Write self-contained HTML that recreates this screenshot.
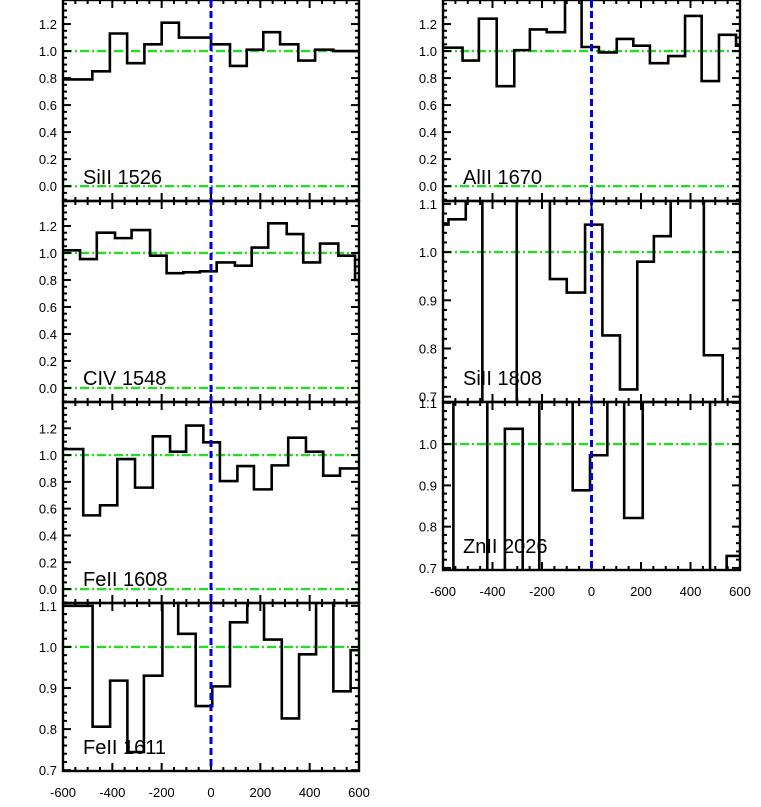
<!DOCTYPE html>
<html><head><meta charset="utf-8"><style>
html,body{margin:0;padding:0;background:#fff;}
svg{display:block;font-family:"Liberation Sans",Arial,sans-serif;}
</style></head><body>
<svg id="chart" width="761" height="807" viewBox="0 0 761 807" xmlns="http://www.w3.org/2000/svg"></svg>
<script>
// ---- data ----
const p1Edges=[-600,-481,-410,-340,-270,-200,-130,0,77,145,212,280,354,422,496,600];
const p1Vals=[0.79,0.85,1.13,0.91,1.05,1.21,1.10,1.05,0.89,1.01,1.14,1.05,0.93,1.01,1.00];
const p2Edges=[-600,-531,-463,-389,-322,-247,-180,-112,-45,23,97,165,232,307,374,442,516,584,600];
const p2Vals=[1.02,0.955,1.15,1.11,1.17,0.98,0.85,0.857,0.864,0.93,0.906,1.04,1.22,1.14,0.93,1.07,0.98,0.80];
const p3Edges=[-600,-518,-450,-380,-308,-236,-166,-101,-31,36,107,174,246,313,385,455,523,600];
const p3Vals=[1.045,0.55,0.625,0.97,0.757,1.14,1.025,1.22,1.095,0.806,0.918,0.744,0.923,1.13,1.025,0.846,0.90];
const p4Edges=[-600,-480,-409,-339,-272,-197,-133,-62,5,77,147,215,287,357,426,496,566,600];
const p4Vals=[1.10,0.806,0.918,0.744,0.93,1.15,1.032,0.856,0.904,1.06,1.15,1.018,0.826,0.982,1.15,0.892,0.992];
const p5Edges=[-600,-521,-455,-383,-312,-249,-181,-107,-40,30,102,169,236,310,378,445,515,584,600];
const p5Vals=[1.025,0.93,1.24,0.74,1.007,1.16,1.14,1.6,1.03,0.99,1.09,1.04,0.91,0.963,1.26,0.778,1.12,1.04];
const p6Edges=[-600,-578,-508,-441,-302,-168,-100,-26,44,115,185,252,320,454,530,600];
const p6Vals=[1.057,1.068,1.3,0.5,1.3,0.944,0.916,1.057,0.827,0.715,0.98,1.033,1.3,0.786,0.5];
const p7Edges=[-600,-558,-421,-350,-278,-211,-76,-6,64,132,207,479,546,600];
const p7Vals=[0.5,1.3,0.5,1.037,0.5,1.3,0.888,0.973,1.3,0.821,1.3,0.5,0.729];
const lineNames=["SiII 1526","CIV 1548","FeII 1608","FeII 1611","AlII 1670","SiII 1808","ZnII 2026"];
const yTicksWide=["0.0","0.2","0.4","0.6","0.8","1.0","1.2"];
const yTicksNarrow=["0.7","0.8","0.9","1.0","1.1"];
const xTickLabels=["-600","-400","-200","0","200","400","600"];

// ---- layout ----
const NS="http://www.w3.org/2000/svg";
const svg=document.getElementById('chart');
function mk(tag,attrs,parent){const e=document.createElementNS(NS,tag);for(const k in attrs)e.setAttribute(k,attrs[k]);(parent||svg).appendChild(e);return e;}
const panels=[
 {id:'p1',edges:p1Edges,vals:p1Vals,name:lineNames[0],x0:63,x1:359,y0:0,y1:201,ymin:-0.11,ymax:1.378,ticks:yTicksWide,major:0.2,minor:0.05},
 {id:'p2',edges:p2Edges,vals:p2Vals,name:lineNames[1],x0:63,x1:359,y0:201,y1:402,ymin:-0.104,ymax:1.385,ticks:yTicksWide,major:0.2,minor:0.05},
 {id:'p3',edges:p3Edges,vals:p3Vals,name:lineNames[2],x0:63,x1:359,y0:402,y1:603,ymin:-0.104,ymax:1.396,ticks:yTicksWide,major:0.2,minor:0.05},
 {id:'p4',edges:p4Edges,vals:p4Vals,name:lineNames[3],x0:63,x1:359,y0:603,y1:771,ymin:0.698,ymax:1.107,ticks:yTicksNarrow,major:0.1,minor:0.02,xlab:true},
 {id:'p5',edges:p5Edges,vals:p5Vals,name:lineNames[4],x0:443,x1:740,y0:0,y1:201,ymin:-0.11,ymax:1.378,ticks:yTicksWide,major:0.2,minor:0.05},
 {id:'p6',edges:p6Edges,vals:p6Vals,name:lineNames[5],x0:443,x1:740,y0:201,y1:402,ymin:0.689,ymax:1.106,ticks:yTicksNarrow,major:0.1,minor:0.02},
 {id:'p7',edges:p7Edges,vals:p7Vals,name:lineNames[6],x0:443,x1:740,y0:402,y1:570,ymin:0.695,ymax:1.102,ticks:yTicksNarrow,major:0.1,minor:0.02,xlab:true}
];
const defs=mk('defs',{});
panels.forEach(p=>{
 const xs=v=>p.x0+(v+600)*(p.x1-p.x0)/1200;
 const ys=v=>p.y1-(v-p.ymin)*(p.y1-p.y0)/(p.ymax-p.ymin);
 const g=mk('g',{});
 
 
 const cp=mk('clipPath',{id:'clip-'+p.id},defs);
 mk('rect',{x:p.x0,y:p.y0,width:p.x1-p.x0,height:p.y1-p.y0},cp);
 [0,1].forEach(val=>{
  if(val<p.ymin||val>p.ymax)return;
  const l=mk('line',{x1:p.x0,x2:p.x1,y1:ys(val),y2:ys(val),stroke:'#22dd22','stroke-width':2.4,'stroke-dasharray':'9,3,2,3'},g);
  
  
 });
 let d='M'+xs(p.edges[0])+' '+ys(p.vals[0]);
 for(let i=0;i<p.vals.length;i++){
  if(i>0)d+=' V'+ys(p.vals[i]);
  d+=' H'+xs(p.edges[i+1]);
 }
 const path=mk('path',{d:d,fill:'none',stroke:'#000','stroke-width':2.6,'clip-path':'url(#clip-'+p.id+')'},g);
 
 
 for(let v=-600;v<=600;v+=50){
  const len=(v%200===0)?8:4;
  mk('line',{x1:xs(v),x2:xs(v),y1:p.y1,y2:p.y1-len,stroke:'#000','stroke-width':2},g);
  mk('line',{x1:xs(v),x2:xs(v),y1:p.y0,y2:p.y0+len,stroke:'#000','stroke-width':2},g);
 }
 const nMinor=Math.round((p.ymax-p.ymin)/p.minor)+2;
 const start=Math.ceil(p.ymin/p.minor)*p.minor;
 for(let k=0;k<nMinor;k++){
  const v=start+k*p.minor; if(v>p.ymax)break;
  const isMaj=Math.abs(v/p.major-Math.round(v/p.major))<1e-6;
  const len=isMaj?8:4;
  mk('line',{x1:p.x0,x2:p.x0+len,y1:ys(v),y2:ys(v),stroke:'#000','stroke-width':2},g);
  mk('line',{x1:p.x1,x2:p.x1-len,y1:ys(v),y2:ys(v),stroke:'#000','stroke-width':2},g);
 }
 const fr=mk('rect',{x:p.x0,y:p.y0,width:p.x1-p.x0,height:p.y1-p.y0,fill:'none',stroke:'#000','stroke-width':2.4},g);
 
 
 p.ticks.forEach(t=>{
  const v=parseFloat(t);
  const tx=mk('text',{x:p.x0-6,y:ys(v)+5,'text-anchor':'end','font-size':13,fill:'#000'},g);
  tx.textContent=t;
  
  
 });
 if(p.xlab){
  xTickLabels.forEach(t=>{
   const tx=mk('text',{x:xs(parseFloat(t)),y:p.y1+26,'text-anchor':'middle','font-size':13,fill:'#000'},g);
   tx.textContent=t;
   
   
  });
 }
 const nm=mk('text',{x:p.x0+20,y:p.y1-17,'font-size':20,fill:'#000'},g);
 nm.textContent=p.name;
 
 
});
[[panels[0],panels[3]],[panels[4],panels[6]]].forEach(([top,bot])=>{
 const x=top.x0+600*(top.x1-top.x0)/1200;
 const l=mk('line',{x1:x,x2:x,y1:top.y0,y2:bot.y1,stroke:'#0000dd','stroke-width':3,'stroke-dasharray':'7,4'});
 
 
});
</script>
</body></html>
